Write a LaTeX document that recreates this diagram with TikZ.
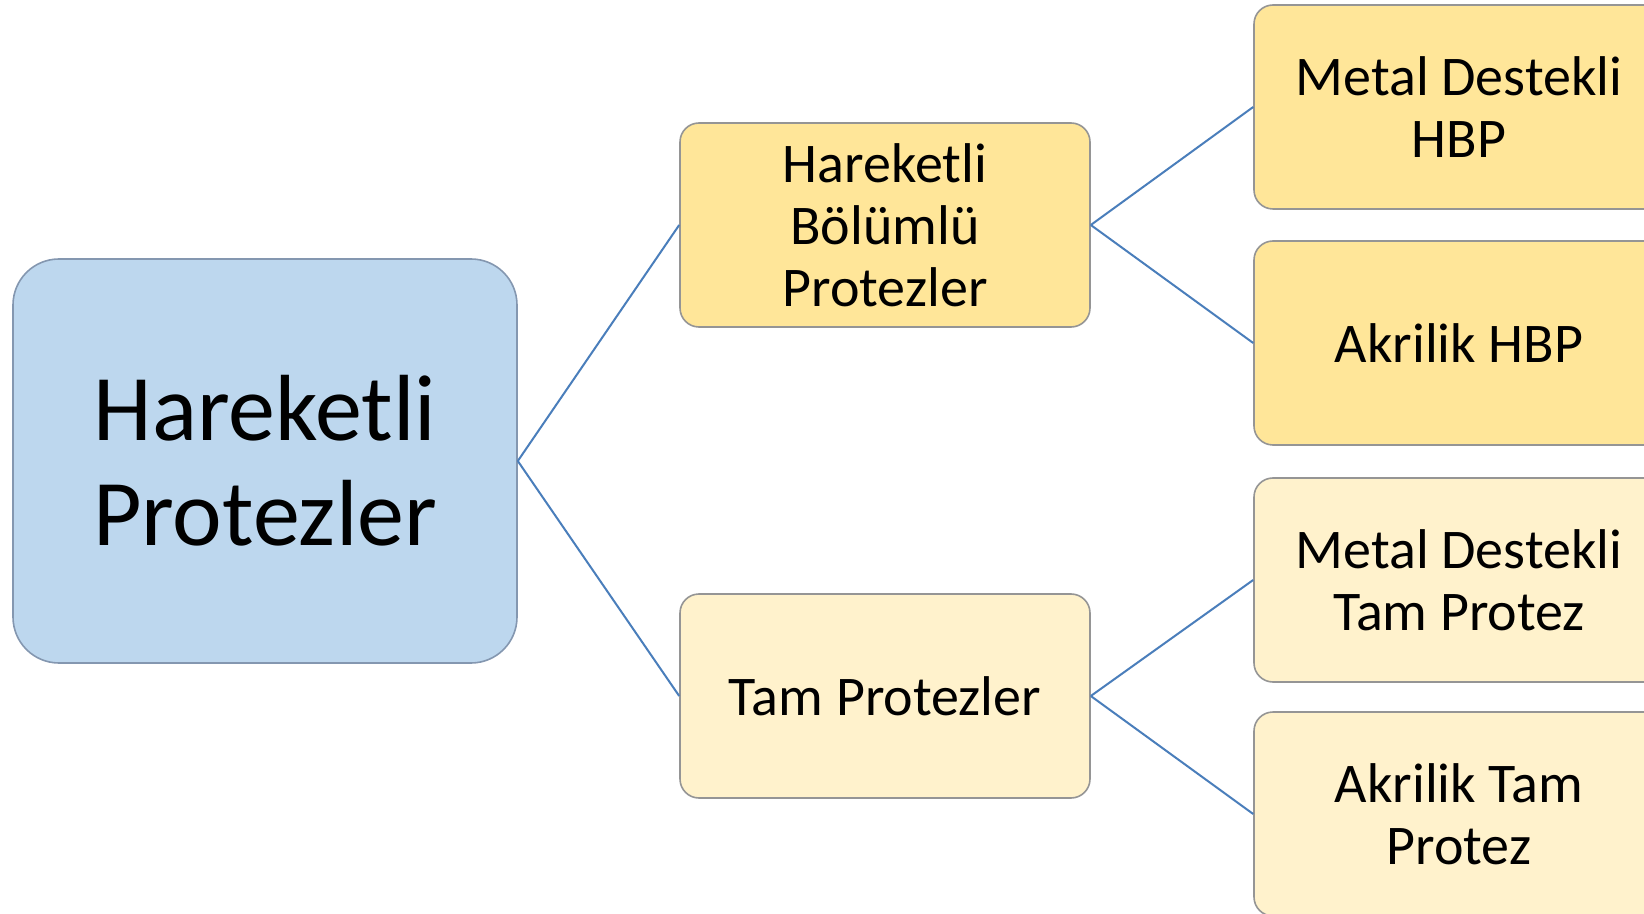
\documentclass[tikz,border=0pt]{standalone}
\usepackage{fontspec}
\setmainfont{Carlito}
\definecolor{rootfill}{HTML}{BDD7EE}
\definecolor{rootdraw}{HTML}{8497B0}
\definecolor{goldfill}{HTML}{FFE699}
\definecolor{creamfill}{HTML}{FFF2CC}
\definecolor{boxdraw}{HTML}{959595}
\definecolor{linkcol}{HTML}{4A7EBB}
\tikzset{
  rootbox/.style={draw=rootdraw, fill=rootfill, line width=0.8pt, rounded corners=23pt,
    minimum width=252pt, minimum height=202pt, inner sep=0pt, align=center,
    font=\fontsize{47}{52.5}\selectfont},
  subbox/.style={draw=boxdraw, line width=0.8pt, rounded corners=9.5pt,
    minimum width=205pt, minimum height=102pt, inner sep=0pt, align=center,
    font=\fontsize{28}{31}\selectfont},
  goldbox/.style={subbox, fill=goldfill},
  creambox/.style={subbox, fill=creamfill},
  link/.style={draw=linkcol, line width=1pt}
}
\begin{document}
\begin{tikzpicture}[x=0.5pt, y=-0.5pt]
\useasboundingbox (0,0) rectangle (1644,914);
\node[rootbox] (root) at (265,461) {Hareketli\\Protezler};
\node[goldbox] (hbp) at (885,225) {Hareketli\\Bölümlü\\Protezler};
\node[creambox] (tam) at (885,696) {Tam Protezler};
\node[goldbox] (mdh) at (1459,107) {Metal Destekli\\HBP};
\node[goldbox] (akh) at (1459,343) {Akrilik HBP};
\node[creambox] (mdt) at (1459,580) {Metal Destekli\\Tam Protez};
\node[creambox] (akt) at (1459,814) {Akrilik Tam\\Protez};
\draw[link] (root.east) -- (hbp.west);
\draw[link] (root.east) -- (tam.west);
\draw[link] (hbp.east) -- (mdh.west);
\draw[link] (hbp.east) -- (akh.west);
\draw[link] (tam.east) -- (mdt.west);
\draw[link] (tam.east) -- (akt.west);
\end{tikzpicture}
\end{document}
